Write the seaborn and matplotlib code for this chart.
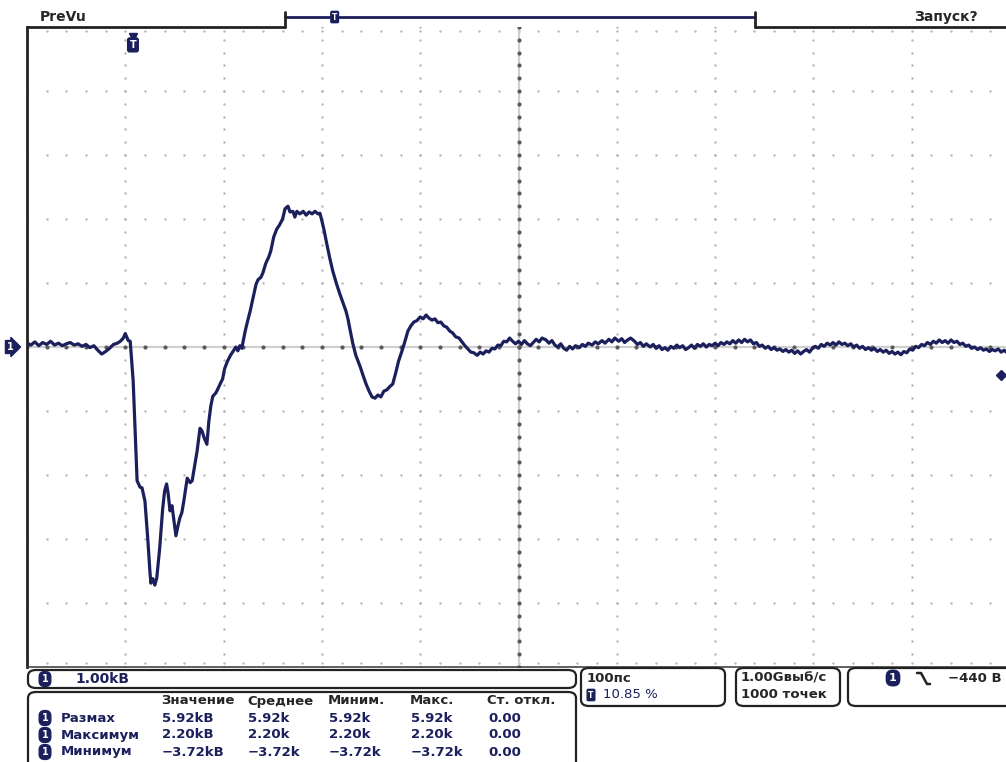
"""
Oscilloscope screen: channel 1 pulse, 1 kV/div, 100 ns/div.
"""
import numpy as np
import seaborn as sns
import matplotlib.pyplot as plt
from matplotlib.patches import FancyBboxPatch
from matplotlib.lines import Line2D

# --- trace: time in ns (0 = left edge), voltage in kV ---
t_ns = [0, 4, 8, 12, 16, 20, 24, 28, 32, 36, 40, 44, 48, 52, 56, 60, 64, 68, 72, 76,
        80, 84, 88, 92, 95, 98, 100, 103,
        105, 108, 110, 112, 115, 117, 120, 123, 125, 126, 128, 130, 132, 135, 138, 140,
        142, 143.5, 145.5, 147.5, 149.5, 151.5, 153.5, 155.5, 157.5, 159.5, 163, 166,
        168, 171, 173, 176, 178, 180, 183, 185, 187, 189, 192, 194, 197, 199, 201, 204,
        207, 210, 212.5, 214.5, 216.5, 218.5, 222, 224, 227, 230, 233, 235, 238, 240,
        243, 246, 248, 251, 254, 257, 260, 262.5, 265.5, 267.5, 270.5, 272.5, 274.5,
        277.5, 281, 284, 287, 290, 293, 296, 298, 300, 302, 305, 308, 311, 315, 318,
        321.5, 324.5, 326.5, 328.5, 331.5, 334.5, 339, 342, 345, 348, 351, 354, 357,
        360, 363, 366, 369, 372, 375, 378, 381.5, 384.5, 387.5, 390.5, 393.5, 396.5,
        400, 403, 406, 409, 412, 415, 418, 421, 424, 427, 430, 433, 436, 439.5, 442.5,
        445.5, 448.5, 451.5, 454.5, 458, 461, 464, 467, 470, 473, 476, 479, 482, 485,
        488, 491, 494, 497, 500,
        503, 506, 509, 512, 515, 518, 521, 524, 528, 531, 534, 537, 540, 543, 546, 549,
        552, 555, 558, 562, 565, 568, 571, 575, 578, 581, 585, 588, 592, 595, 598, 602,
        605, 608, 611, 614, 618, 621, 624, 627, 630, 634, 637, 640, 643, 646, 649, 652,
        655, 658, 661, 664, 667, 670, 673, 676, 679, 682, 685, 688, 691, 694, 697, 700,
        703, 706, 709, 712, 715, 718, 721, 724, 727, 730, 733, 736, 739, 742, 745, 748,
        751, 754, 757, 760, 763, 766, 769, 772, 775, 778, 781, 784, 787, 790, 793, 796,
        799, 802, 805, 808, 811, 814, 817, 820, 823, 826, 829, 832, 835, 838, 841, 844,
        847, 850, 853, 856, 859, 862, 865, 868, 871, 874, 877, 880, 883, 886, 889, 892,
        895, 898, 901, 904, 907, 910, 913, 916, 919, 922, 925, 928, 931, 934, 937, 940,
        943, 946, 949, 952, 955, 958, 961, 964, 967, 970, 973, 976, 979, 982, 985, 988,
        991, 994, 997, 1000]

v_kv = [0.06, 0.03, 0.08, 0.02, 0.07, 0.04, 0.09, 0.03, 0.06, 0.02, 0.05, 0.07, 0.03,
        0.05, 0.01, 0.04, -0.01, 0.02, -0.05, -0.11, -0.07, -0.02, 0.04, 0.06, 0.09,
        0.14, 0.21, 0.10,
        0.09, -0.53, -1.31, -2.09, -2.19, -2.20, -2.41, -3.03, -3.50, -3.69, -3.62,
        -3.72, -3.61, -3.14, -2.53, -2.25, -2.14, -2.28, -2.56, -2.48, -2.72, -2.95,
        -2.80, -2.67, -2.59, -2.41, -2.05, -2.12, -2.09, -1.81, -1.63, -1.27, -1.31,
        -1.41, -1.52, -1.16, -0.92, -0.77, -0.72, -0.66, -0.56, -0.50, -0.34, -0.22,
        -0.13, -0.06, 0.0, -0.06, 0.02, -0.02, 0.25, 0.38, 0.56, 0.77, 0.98, 1.05,
        1.09, 1.16, 1.31, 1.41, 1.50, 1.72, 1.84, 1.91, 2.00, 2.16, 2.20, 2.11, 2.12,
        2.03, 2.12, 2.08, 2.12, 2.06, 2.11, 2.08, 2.12, 2.08, 2.09, 1.97, 1.84, 1.61,
        1.39, 1.19, 0.98, 0.84, 0.69, 0.56, 0.44, 0.28, 0.05, -0.13, -0.31, -0.45,
        -0.58, -0.69, -0.78, -0.80, -0.75, -0.78, -0.69, -0.67, -0.62, -0.58, -0.41,
        -0.22, -0.06, 0.09, 0.25, 0.33, 0.39, 0.41, 0.47, 0.44, 0.50, 0.45, 0.42, 0.44,
        0.38, 0.39, 0.33, 0.31, 0.25, 0.22, 0.16, 0.14, 0.08, 0.02, -0.03, -0.08,
        -0.09, -0.13, -0.08, -0.11, -0.06, -0.08, -0.02, -0.03, 0.03, 0.02, 0.09, 0.08,
        0.14, 0.09, 0.05, 0.09,
        0.04, 0.10, 0.05, 0.02, 0.07, 0.12, 0.08, 0.14, 0.11, 0.06, 0.10, 0.03, 0.00,
        0.05, -0.02, -0.05, 0.01, -0.03, 0.02, -0.01, 0.04, 0.01, 0.06, 0.03, 0.08,
        0.05, 0.10, 0.06, 0.12, 0.08, 0.14, 0.09, 0.13, 0.07, 0.11, 0.14, 0.09, 0.04,
        0.07, 0.01, 0.05, 0.00, 0.04, -0.02, 0.02, -0.04, -0.01, -0.05, 0.01, -0.02,
        0.03, -0.01, 0.02, -0.04, -0.01, 0.03, -0.02, 0.04, 0.01, 0.05, 0.00, 0.04,
        0.02, 0.06, 0.02, 0.07, 0.04, 0.08, 0.05, 0.10, 0.06, 0.11, 0.07, 0.12, 0.08,
        0.11, 0.05, 0.07, 0.01, 0.03, -0.02, 0.01, -0.04, -0.01, -0.05, -0.03, -0.07,
        -0.04, -0.08, -0.05, -0.10, -0.06, -0.11, -0.07, -0.04, -0.08, -0.02, 0.01,
        -0.02, 0.04, 0.01, 0.06, 0.03, 0.07, 0.03, 0.08, 0.04, 0.06, 0.02, 0.05, 0.00,
        0.03, -0.02, 0.01, -0.04, -0.01, -0.05, -0.02, -0.07, -0.04, -0.08, -0.05,
        -0.10, -0.07, -0.11, -0.08, -0.12, -0.07, -0.09, -0.03, -0.05, 0.01, -0.01,
        0.04, 0.02, 0.07, 0.04, 0.09, 0.06, 0.11, 0.07, 0.10, 0.06, 0.11, 0.07, 0.09,
        0.04, 0.06, 0.01, 0.03, -0.02, 0.00, -0.04, -0.01, -0.05, -0.03, -0.07, -0.04,
        -0.06, -0.03, -0.08, -0.05, -0.09, -0.07]

# --- readouts ---
table_header = ["Значение", "Среднее", "Миним.", "Макс.", "Ст. откл."]
row_names = ["Размах", "Максимум", "Минимум"]
row_values = [["5.92kB", "5.92k", "5.92k", "5.92k", "0.00"],
              ["2.20kB", "2.20k", "2.20k", "2.20k", "0.00"],
              ["\u22123.72kB", "\u22123.72k", "\u22123.72k", "\u22123.72k", "0.00"]]
volts_per_div = "1.00kB"
time_per_div = "100пс"
trig_pos = "10.85 %"
sample_rate = ["1.00Gвыб/с", "1000 точек"]
trig_level = "\u2212440 B"
trig_level_kv = -0.44

NAVY = "#1b1f5c"
W, H = 1006, 762

sns.set_style("white")
plt.rcParams["font.family"] = ["DejaVu Sans"]

fig = plt.figure(figsize=(W / 100, H / 100), dpi=100)
fig.patch.set_facecolor("white")


def fx(x):
    return x / W


def fy(y):
    return 1 - y / H


# plot area: left edge 27px, top 27px, 98.3 px/div, 64 px/div
ax = fig.add_axes([fx(27), fy(667), 983 / W, 640 / H])
ax.set_xlim(0, 1000)
ax.set_ylim(-5, 5)
ax.set_xticks([])
ax.set_yticks([])
for s in ["top", "right"]:
    ax.spines[s].set_visible(False)
ax.spines["left"].set_linewidth(2)
ax.spines["left"].set_color("#222222")
ax.spines["bottom"].set_linewidth(1.2)
ax.spines["bottom"].set_color("#444444")

# dotted graticule
minor_t = np.arange(0, 1001, 20)
minor_v = np.arange(-5, 5.01, 0.2)
for lv in [-4, -3, -2, -1, 1, 2, 3, 4]:
    ax.scatter(minor_t, np.full_like(minor_t, lv, dtype=float), s=3, color="#b5b5b5",
               linewidths=0, zorder=1)
for lt in [100, 200, 300, 400, 600, 700, 800, 900]:
    ax.scatter(np.full_like(minor_v, lt), minor_v, s=3, color="#b5b5b5",
               linewidths=0, zorder=1)
# border ticks
ax.scatter(minor_t, np.full_like(minor_t, 4.93, dtype=float), s=3, color="#b5b5b5",
           linewidths=0, zorder=1)
ax.scatter(minor_t, np.full_like(minor_t, -4.93, dtype=float), s=3, color="#b5b5b5",
           linewidths=0, zorder=1)
# centre crosshair
ax.axhline(0, color="#cfcfcf", lw=1.6, zorder=1)
ax.axvline(500, color="#cfcfcf", lw=1.6, zorder=1)
ax.scatter(minor_t, np.zeros_like(minor_t, dtype=float), s=9, color="#5a5a5a",
           linewidths=0, zorder=2)
ax.scatter(np.full_like(minor_v, 500), minor_v, s=9, color="#5a5a5a",
           linewidths=0, zorder=2)

# the waveform
sns.lineplot(x=t_ns, y=v_kv, ax=ax, color=NAVY, linewidth=2.3, sort=False,
             estimator=None, zorder=5)

# top border with trigger-position bar
ax.plot([0, 0.2625], [1, 1], transform=ax.transAxes, color="#222222", lw=2,
        clip_on=False)
ax.plot([0.7406, 1.0], [1, 1], transform=ax.transAxes, color="#222222", lw=2,
        clip_on=False)
ax.plot([0.2625, 0.7406], [1.0156, 1.0156], transform=ax.transAxes, color=NAVY,
        lw=2, clip_on=False)
for xb in [0.2625, 0.7406]:
    ax.plot([xb, xb], [1.0, 1.024], transform=ax.transAxes, color="#222222", lw=2,
            clip_on=False)
ax.text(0.313, 1.0156, "T", transform=ax.transAxes, ha="center", va="center",
        fontsize=5.5, color="white", fontweight="bold",
        bbox=dict(boxstyle="round,pad=0.15", fc=NAVY, ec=NAVY))

# trigger marker, ground marker, trigger level marker
ax.plot([0.1078], [0.985], marker="v", ms=6, color=NAVY, transform=ax.transAxes,
        clip_on=False, zorder=6)
ax.text(0.1078, 0.972, "T", transform=ax.transAxes, ha="center", va="center",
        fontsize=7, color="white", fontweight="bold",
        bbox=dict(boxstyle="round,pad=0.2", fc=NAVY, ec=NAVY), zorder=6)
ax.text(-0.017, 0.5, "1", transform=ax.transAxes, ha="center", va="center",
        fontsize=7, color="white", fontweight="bold",
        bbox=dict(boxstyle="rarrow,pad=0.15", fc=NAVY, ec=NAVY), zorder=6)
ax.plot([991], [trig_level_kv], marker="D", ms=5, color=NAVY, clip_on=False,
        zorder=6)

# top labels
fig.text(fx(40), fy(17), "PreVu", fontsize=10, fontweight="bold", va="center")
fig.text(fx(914), fy(17), "Запуск?", fontsize=10, fontweight="bold", va="center")


def box(x0, y0, x1, y1):
    fig.patches.append(FancyBboxPatch((fx(x0), fy(y1)), fx(x1 - x0), (y1 - y0) / H,
                                      boxstyle="round,pad=0,rounding_size=0.008",
                                      transform=fig.transFigure, fc="white",
                                      ec="#222222", lw=1.6))


def chan_icon(x, y, size=7):
    fig.text(fx(x), fy(y), "1", fontsize=size, color="white", fontweight="bold",
             ha="center", va="center",
             bbox=dict(boxstyle="round,pad=0.25,rounding_size=0.55", fc=NAVY, ec=NAVY))


# readout boxes
box(28, 670, 576, 688)
box(28, 692, 576, 775)
box(581, 668, 725, 706)
box(736, 668, 840, 706)
box(848, 668, 1015, 706)

chan_icon(45, 679)
fig.text(fx(75), fy(679), volts_per_div, fontsize=10, fontweight="bold", color=NAVY,
         va="center")

col_x = [161, 247, 328, 410, 487]
for cx, head in zip(col_x, table_header):
    fig.text(fx(cx), fy(701), head, fontsize=9.5, fontweight="bold", va="center")
for i, (name, vals) in enumerate(zip(row_names, row_values)):
    yy = 718 + 17 * i
    chan_icon(45, yy)
    fig.text(fx(61), fy(yy), name, fontsize=9.5, fontweight="bold", color=NAVY,
             va="center")
    for cx, val in zip(col_x, vals):
        fig.text(fx(cx + 1), fy(yy), val, fontsize=9.5, fontweight="bold",
                 color=NAVY, va="center")

fig.text(fx(587), fy(678), time_per_div, fontsize=9.5, fontweight="bold", va="center")
fig.text(fx(591), fy(695), "T", fontsize=5.5, color="white", fontweight="bold",
         ha="center", va="center",
         bbox=dict(boxstyle="round,pad=0.15", fc=NAVY, ec=NAVY))
fig.text(fx(603), fy(695), trig_pos, fontsize=9.5, color=NAVY, va="center")
fig.text(fx(741), fy(678), sample_rate[0], fontsize=9.5, fontweight="bold",
         va="center")
fig.text(fx(741), fy(695), sample_rate[1], fontsize=9.5, fontweight="bold",
         va="center")
chan_icon(893, 678, size=8)
fig.lines.append(Line2D([fx(917), fx(921), fx(927), fx(930)],
                        [fy(673), fy(673), fy(684), fy(684)],
                        transform=fig.transFigure, color="#222222", lw=1.8))
fig.text(fx(948), fy(678), trig_level, fontsize=9.5, fontweight="bold", va="center")

fig.savefig("out.png", dpi=100)
